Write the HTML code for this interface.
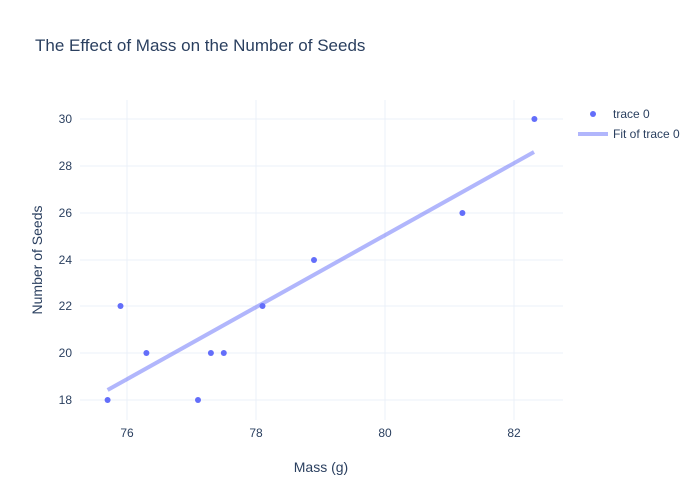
<!DOCTYPE html>
<html><head><meta charset="utf-8"><style>
body{margin:0;background:#fff}
svg{display:block}
text{font-family:"Liberation Sans",sans-serif;fill:#2a3f5f}
</style></head><body>
<svg width="700" height="500" viewBox="0 0 700 500">
<rect width="700" height="500" fill="#fff"/>
<text x="35" y="51" font-size="17">The Effect of Mass on the Number of Seeds</text>
<g stroke="#ebf0f8" stroke-width="1">
<line x1="127" y1="100" x2="127" y2="420"/>
<line x1="256" y1="100" x2="256" y2="420"/>
<line x1="385" y1="100" x2="385" y2="420"/>
<line x1="514" y1="100" x2="514" y2="420"/>
<line x1="80" y1="119" x2="563" y2="119"/>
<line x1="80" y1="166" x2="563" y2="166"/>
<line x1="80" y1="213" x2="563" y2="213"/>
<line x1="80" y1="260" x2="563" y2="260"/>
<line x1="80" y1="306" x2="563" y2="306"/>
<line x1="80" y1="353" x2="563" y2="353"/>
<line x1="80" y1="400" x2="563" y2="400"/>
</g>
<g font-size="12" text-anchor="end">
<text x="72" y="123">30</text><text x="72" y="170">28</text><text x="72" y="217">26</text>
<text x="72" y="264">24</text><text x="72" y="310">22</text><text x="72" y="357">20</text>
<text x="72" y="404">18</text>
</g>
<g font-size="12" text-anchor="middle">
<text x="127" y="437">76</text><text x="256" y="437">78</text><text x="385" y="437">80</text><text x="514" y="437">82</text>
</g>
<text x="321" y="472" font-size="14" text-anchor="middle">Mass (g)</text>
<text transform="translate(42,260) rotate(-90)" font-size="14" text-anchor="middle">Number of Seeds</text>
<line x1="107.6" y1="390" x2="534" y2="152" stroke="#636efa" stroke-opacity="0.5" stroke-width="4"/>
<g fill="#636efa">
<circle cx="107.6" cy="400" r="3"/><circle cx="120.5" cy="306" r="3"/><circle cx="146.4" cy="353" r="3"/>
<circle cx="198" cy="400" r="3"/><circle cx="210.9" cy="353" r="3"/><circle cx="223.8" cy="353" r="3"/>
<circle cx="262.5" cy="306" r="3"/><circle cx="314" cy="260" r="3"/><circle cx="462.4" cy="213" r="3"/>
<circle cx="534.4" cy="119" r="3"/>
</g>
<circle cx="593" cy="114" r="3" fill="#636efa"/>
<text x="613" y="118" font-size="12">trace 0</text>
<line x1="578" y1="134" x2="608" y2="134" stroke="#636efa" stroke-opacity="0.5" stroke-width="4"/>
<text x="613" y="138" font-size="12">Fit of trace 0</text>
</svg>
</body></html>
